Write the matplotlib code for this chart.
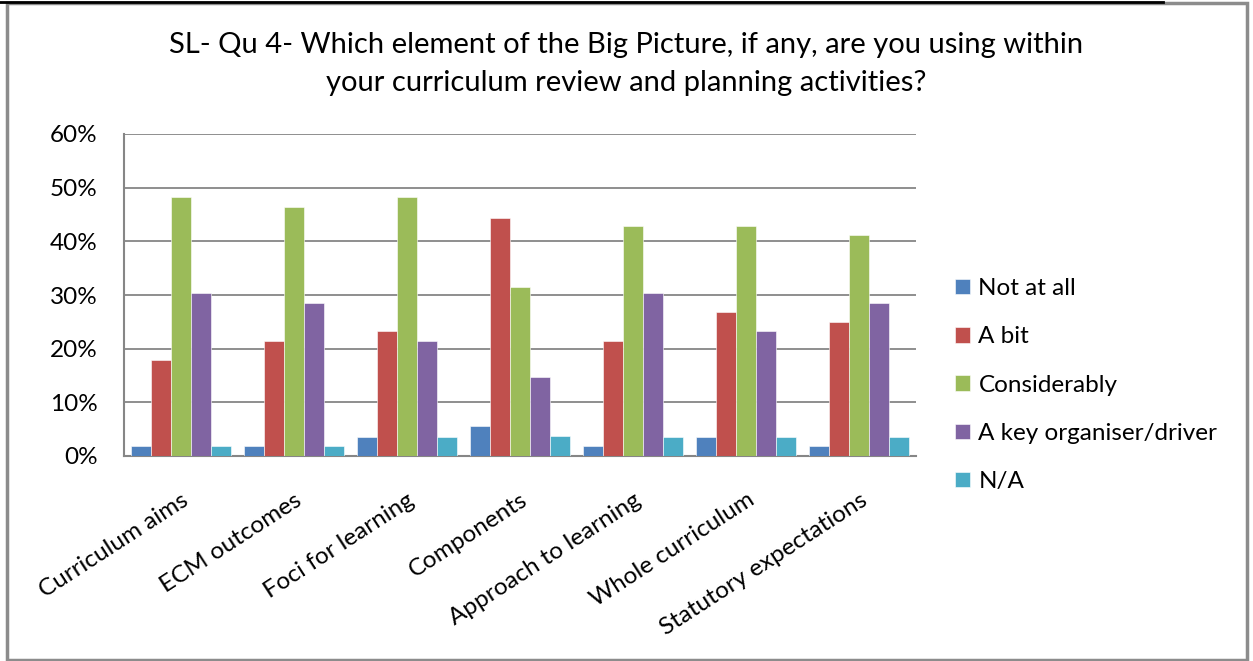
import matplotlib.pyplot as plt
import numpy as np
from matplotlib.patches import Rectangle
from matplotlib.lines import Line2D
from matplotlib.ticker import PercentFormatter

plt.rcParams['font.family'] = ['Lato', 'DejaVu Sans']

categories = ["Curriculum aims", "ECM outcomes", "Foci for learning", "Components",
              "Approach to learning", "Whole curriculum", "Statutory expectations"]
series_names = ["Not at all", "A bit", "Considerably", "A key organiser/driver", "N/A"]
not_at_all = [1.8, 1.8, 3.6, 5.6, 1.8, 3.6, 1.8]
a_bit = [17.9, 21.4, 23.2, 44.4, 21.4, 26.8, 25.0]
considerably = [48.2, 46.4, 48.2, 31.5, 42.9, 42.9, 41.1]
key_driver = [30.4, 28.6, 21.4, 14.8, 30.4, 23.2, 28.6]
not_applicable = [1.8, 1.8, 3.6, 3.7, 3.6, 3.6, 3.6]
colors = ["#4F81BD", "#C0504D", "#9BBB59", "#8064A2", "#4BACC6"]

fig = plt.figure(figsize=(12.53, 6.61), dpi=100)

# outer frame like the Excel chart area
fig.patches.append(Rectangle((7 / 1253, 1 / 661), 1240 / 1253, 657 / 661,
                             transform=fig.transFigure, fill=False,
                             edgecolor="#8c8c8c", linewidth=2.5))
fig.lines.append(Line2D([0, 1163 / 1253], [1 - 2 / 661, 1 - 2 / 661],
                        transform=fig.transFigure, color="black", linewidth=2))

ax = fig.add_axes([124 / 1253, 1 - 456 / 661, 792 / 1253, 322 / 661])

x = np.arange(len(categories))
bw = 0.177
all_series = [not_at_all, a_bit, considerably, key_driver, not_applicable]
for i, (vals, name) in enumerate(zip(all_series, series_names)):
    ax.bar(x + (i - 2) * bw, vals, width=bw, color=colors[i], label=name,
           edgecolor="white", linewidth=0.4, zorder=3)

ax.set_xlim(-0.5, len(categories) - 0.5)
ax.set_ylim(0, 60)
ax.set_yticks(range(0, 61, 10))
ax.yaxis.set_major_formatter(PercentFormatter(decimals=0))
ax.grid(axis="y", color="#868686", linewidth=1.3, zorder=0)
for s in ["top", "right"]:
    ax.spines[s].set_visible(False)
for s in ["left", "bottom"]:
    ax.spines[s].set_color("#868686")
    ax.spines[s].set_linewidth(1.5)
ax.tick_params(axis="y", length=0, labelsize=17.5, pad=19)
ax.tick_params(axis="x", length=0, labelsize=17.5, pad=24)
ax.set_xticks(x)
ax.set_xticklabels(categories, rotation=33, ha="right", va="top",
                   rotation_mode="anchor")

fig.text(0.5, 1 - 45 / 661, "SL- Qu 4- Which element of the Big Picture, if any, are you using within",
         ha="center", va="center", fontsize=21)
fig.text(0.5, 1 - 83 / 661, "your curriculum review and planning activities?",
         ha="center", va="center", fontsize=21)

leg = ax.legend(loc="center left", bbox_to_anchor=(1.022, 0.22), frameon=False,
                fontsize=17.5, handlelength=0.6, handleheight=0.6, handletextpad=0.35,
                labelspacing=1.12)

fig.savefig("out.png", dpi=100)
